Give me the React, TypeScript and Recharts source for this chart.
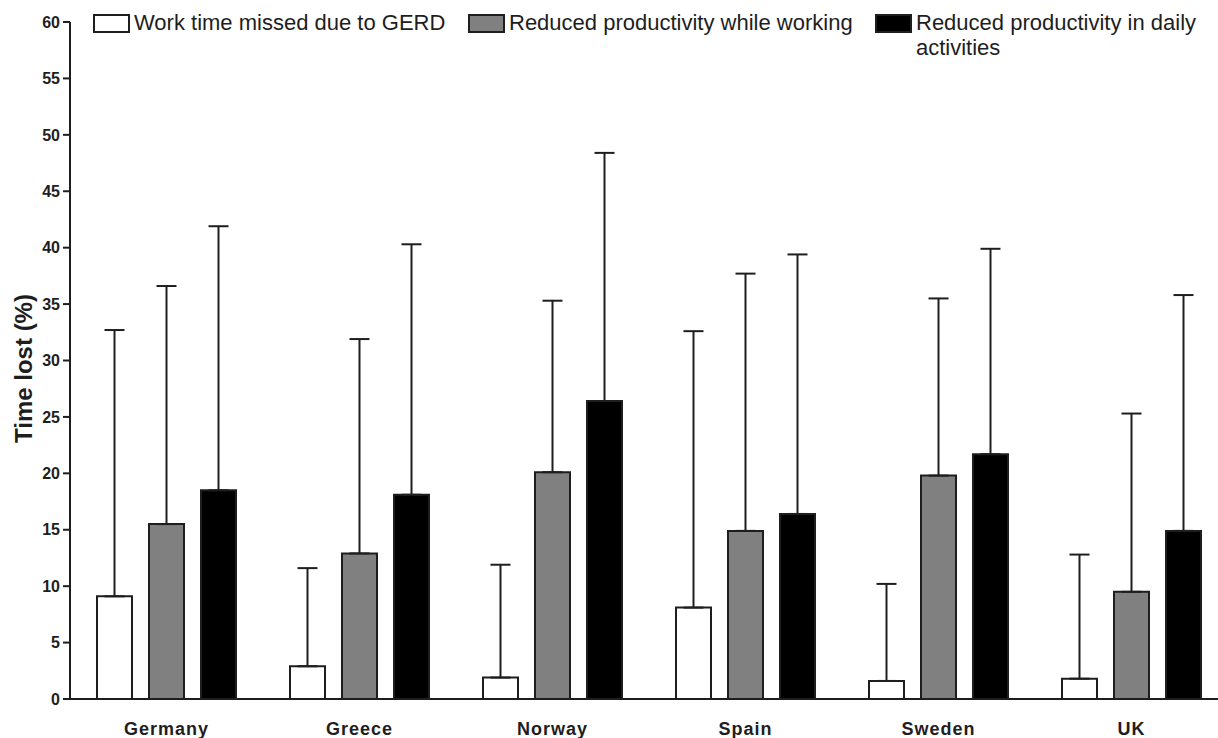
import { Bar, BarChart, ErrorBar, Label, Legend, XAxis, YAxis } from 'recharts';

const countries = ['Germany', 'Greece', 'Norway', 'Spain', 'Sweden', 'UK'];

// means
const workMissed = [9.1, 2.9, 1.9, 8.1, 1.6, 1.8];
const prodWorking = [15.5, 12.9, 20.1, 14.9, 19.8, 9.5];
const prodDaily = [18.5, 18.1, 26.4, 16.4, 21.7, 14.9];

// upper SD (error bars only go up)
const workMissedSd = [23.6, 8.7, 10.0, 24.5, 8.6, 11.0];
const prodWorkingSd = [21.1, 19.0, 15.2, 22.8, 15.7, 15.8];
const prodDailySd = [23.4, 22.2, 22.0, 23.0, 18.2, 20.9];

const yTicks = [0, 5, 10, 15, 20, 25, 30, 35, 40, 45, 50, 55, 60];

const legendItems = [
  { label: 'Work time missed due to GERD', fill: '#ffffff' },
  { label: 'Reduced productivity while working', fill: '#808080' },
  { label: 'Reduced productivity in daily activities', fill: '#000000' },
];

const data = countries.map((country, i) => ({
  country,
  workMissed: workMissed[i],
  workMissedErr: [0, workMissedSd[i]],
  prodWorking: prodWorking[i],
  prodWorkingErr: [0, prodWorkingSd[i]],
  prodDaily: prodDaily[i],
  prodDailyErr: [0, prodDailySd[i]],
}));

const ink = '#1e1e1e';
const font = '"Liberation Sans", Arial, sans-serif';

const legendLeft = [93, 468, 875];
const legendWidth = [360, 400, 340];

function ChartLegend() {
  return (
    <div style={{ position: 'relative', width: 1218, height: 70, fontFamily: font, fontSize: 22, color: ink }}>
      {legendItems.map((item, i) => (
        <div
          key={item.label}
          style={{ position: 'absolute', left: legendLeft[i], top: 13, width: legendWidth[i], display: 'flex', alignItems: 'flex-start' }}
        >
          <div
            style={{
              width: 33,
              height: 15,
              marginTop: 1,
              background: item.fill,
              border: `2px solid ${ink}`,
              flexShrink: 0,
            }}
          />
          <div style={{ marginLeft: 4, lineHeight: '25px', marginTop: -3, maxWidth: i === 2 ? 300 : undefined }}>{item.label}</div>
        </div>
      ))}
    </div>
  );
}

function YTitle(props: any) {
  const vb = props.viewBox || { x: 0, y: 22, height: 677 };
  const cx = 23;
  const cy = vb.y + vb.height / 2 + 8;
  return (
    <text
      x={cx}
      y={cy}
      transform={`rotate(-90 ${cx} ${cy})`}
      textAnchor="middle"
      dominantBaseline="central"
      fontFamily={font}
      fontWeight="bold"
      fontSize={24}
      fill={ink}
    >
      Time lost (%)
    </text>
  );
}

export default function App() {
  return (
    <div style={{ position: 'fixed', left: 0, top: 0, width: 1218, height: 738, overflow: 'hidden', background: '#fff' }}>
      <BarChart
        width={1240}
        height={738}
        data={data}
        margin={{ top: 22, right: 12, bottom: 0, left: 0 }}
        barSize={35}
        barGap={17}
      >
        <XAxis
          dataKey="country"
          height={39}
          tickLine={false}
          tickSize={8}
          tickMargin={15}
          axisLine={{ stroke: ink, strokeWidth: 2 }}
          tick={{ fill: ink, fontSize: 18, fontWeight: 'bold', fontFamily: font, letterSpacing: 1 }}
        />
        <YAxis
          width={70}
          domain={[0, 60]}
          ticks={yTicks}
          interval={0}
          tickSize={7}
          tickMargin={3}
          axisLine={{ stroke: ink, strokeWidth: 2 }}
          tickLine={{ stroke: ink, strokeWidth: 2 }}
          tick={{ fill: ink, fontSize: 16, fontWeight: 'bold', fontFamily: font }}
        >
          <Label content={<YTitle />} />
        </YAxis>
        <Legend
          verticalAlign="middle"
          layout="horizontal"
          wrapperStyle={{ left: 0, top: 0, width: 1218 }}
          content={() => <ChartLegend />}
        />
        <Bar dataKey="workMissed" fill="#ffffff" stroke={ink} strokeWidth={2} isAnimationActive={false}>
          <ErrorBar dataKey="workMissedErr" direction="y" width={10} stroke={ink} strokeWidth={2} isAnimationActive={false} />
        </Bar>
        <Bar dataKey="prodWorking" fill="#808080" stroke={ink} strokeWidth={2} isAnimationActive={false}>
          <ErrorBar dataKey="prodWorkingErr" direction="y" width={10} stroke={ink} strokeWidth={2} isAnimationActive={false} />
        </Bar>
        <Bar dataKey="prodDaily" fill="#000000" stroke={ink} strokeWidth={2} isAnimationActive={false}>
          <ErrorBar dataKey="prodDailyErr" direction="y" width={10} stroke={ink} strokeWidth={2} isAnimationActive={false} />
        </Bar>
      </BarChart>
    </div>
  );
}
